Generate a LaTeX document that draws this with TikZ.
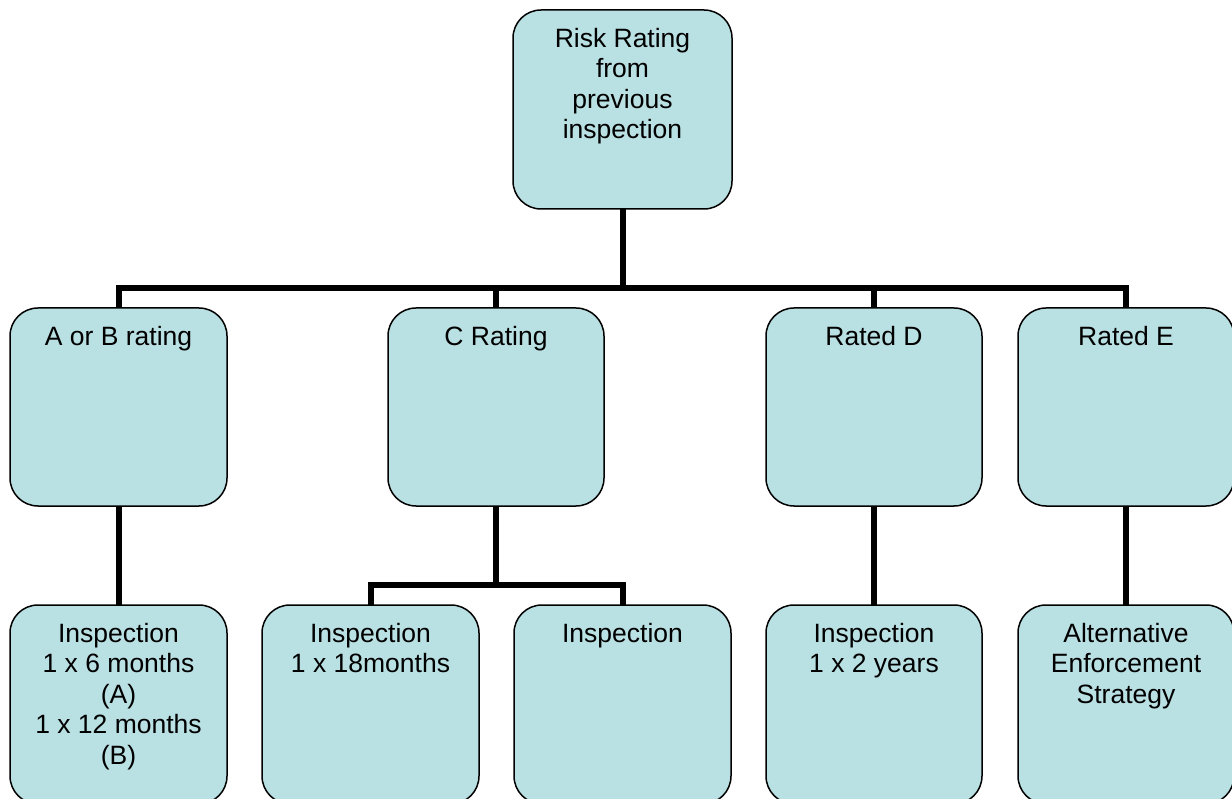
\documentclass[tikz,border=0pt]{standalone}
\usepackage{fontspec}
\setmainfont{Liberation Sans}
\definecolor{boxfill}{RGB}{185,224,227}
\tikzset{
  box/.style={draw=black, line width=1.5pt, fill=boxfill, rounded corners=28pt,
    minimum width=#1, minimum height=199pt, inner sep=0pt, outer sep=0pt},
  txt/.style={anchor=north, align=center, inner sep=0pt, yshift=-18pt,
    font=\fontsize{26.5}{30.5}\selectfont},
  conn/.style={draw=black, line width=6pt, line join=miter, line cap=butt}
}
\begin{document}
\begin{tikzpicture}[x=1pt,y=-1pt]
\useasboundingbox (0,0) rectangle (1232,799);
\clip (0,0) rectangle (1232,799);
\coordinate (bus) at (0,288);
\coordinate (cbus) at (0,585);
% top
\node[box=219pt] (rr) at (622.5,109.5) {};
% row 2
\node[box=217pt, minimum height=198pt] (ab) at (118.5,407) {};
\node[box=216pt, minimum height=198pt] (c) at (496,407) {};
\node[box=216pt, minimum height=198pt] (d) at (874,407) {};
\node[box=216pt, minimum height=198pt] (e) at (1126,407) {};
% row 3
\node[box=217pt] (ab2) at (118.5,704.5) {};
\node[box=217pt] (c1) at (370.5,704.5) {};
\node[box=217pt] (c2) at (622.5,704.5) {};
\node[box=216pt] (d2) at (874,704.5) {};
\node[box=216pt] (e2) at (1126,704.5) {};
% texts
\node[txt] (rr-t) at (rr.north) {Risk Rating\\from\\previous\\inspection};
\node[txt] (ab-t) at (ab.north) {A or B rating};
\node[txt] (c-t) at (c.north) {C Rating};
\node[txt] (d-t) at (d.north) {Rated D};
\node[txt] (e-t) at (e.north) {Rated E};
\node[txt] (ab2-t) at (ab2.north) {Inspection\\1 x 6 months\\(A)\\1 x 12 months\\(B)};
\node[txt] (c1-t) at (c1.north) {Inspection\\1 x 18months};
\node[txt] (c2-t) at (c2.north) {Inspection};
\node[txt] (d2-t) at (d2.north) {Inspection\\1 x 2 years};
\node[txt] (e2-t) at (e2.north) {Alternative\\Enforcement\\Strategy};
% connectors
\draw[conn] (rr.south) -- (rr.south |- bus);
\draw[conn] (ab.north) -- (ab.north |- bus) -- (e.north |- bus) -- (e.north);
\draw[conn] (c.north) -- (c.north |- bus);
\draw[conn] (d.north) -- (d.north |- bus);
\draw[conn] (ab.south) -- (ab2.north);
\draw[conn] (d.south) -- (d2.north);
\draw[conn] (e.south) -- (e2.north);
\draw[conn] (c.south) -- (c.south |- cbus);
\draw[conn] (c1.north) -- (c1.north |- cbus) -- (c2.north |- cbus) -- (c2.north);
\end{tikzpicture}
\end{document}
